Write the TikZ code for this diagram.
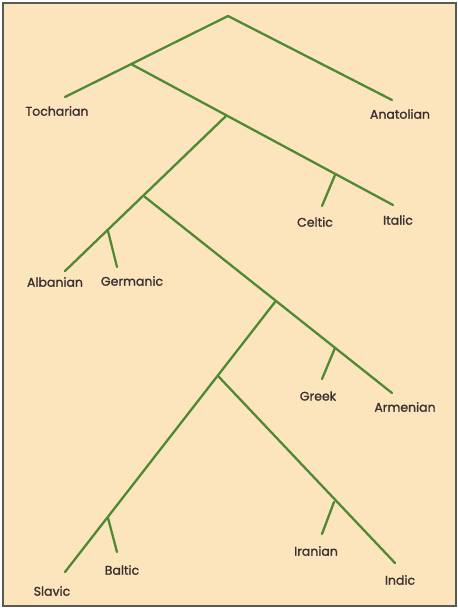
\documentclass[tikz,border=0pt]{standalone}
\usepackage{fontspec}
\setmainfont{Poppins}
\newfontfamily\langfont[FakeBold=1.2]{Poppins}
\definecolor{bg}{HTML}{FCE4BC}
\definecolor{br}{HTML}{4E8A33}
\definecolor{tx}{HTML}{3A3030}
\begin{document}
\begin{tikzpicture}[x=1pt,y=-1pt,
  branch/.style={draw=br,line width=2.3pt,line cap=round,line join=round},
  lang/.style={text=tx,font=\langfont\fontsize{12.5}{14}\selectfont,inner sep=0pt}]
\useasboundingbox (0,0) rectangle (458,608);
\fill[white] (0,0) rectangle (458,608);
\draw[fill=bg,draw=black!65,line width=1.2pt] (3,3) rectangle (456,606);
% coordinates
\coordinate (root) at (228,16);
\coordinate (tE) at (65,97);
\coordinate (aE) at (392,100);
\coordinate (j1) at (131,64);
\coordinate (itE) at (393,205);
\coordinate (j2) at (226,116);
\coordinate (alE) at (65,271);
\coordinate (jc) at (335,175);
\coordinate (ceE) at (322,206);
\coordinate (jg) at (108,231);
\coordinate (geE) at (117,267);
\coordinate (j3) at (145,197);
\coordinate (arE) at (392,393);
\coordinate (j4) at (275,302);
\coordinate (slE) at (65,572);
\coordinate (jgr) at (335,348);
\coordinate (grE) at (322,379);
\coordinate (j5) at (219,377);
\coordinate (inE) at (395,563);
\coordinate (jir) at (334,502);
\coordinate (irE) at (322,534);
\coordinate (jb) at (108,518);
\coordinate (baE) at (117,552);
% branches
\draw[branch] (tE) -- (root) -- (aE);
\draw[branch] (j1) -- (itE);
\draw[branch] (j2) -- (alE);
\draw[branch] (jc) -- (ceE);
\draw[branch] (jg) -- (geE);
\draw[branch] (j3) -- (arE);
\draw[branch] (j4) -- (slE);
\draw[branch] (jgr) -- (grE);
\draw[branch] (j5) -- (inE);
\draw[branch] (jir) -- (irE);
\draw[branch] (jb) -- (baE);
% labels
\node[lang] (toch) at (57,111) {Tocharian};
\node[lang] (anat) at (400,114) {Anatolian};
\node[lang] (celt) at (315,222) {Celtic};
\node[lang] (ital) at (398,220) {Italic};
\node[lang] (alba) at (55,282) {Albanian};
\node[lang] (germ) at (132,281) {Germanic};
\node[lang] (gree) at (318,396) {Greek};
\node[lang] (arme) at (405,407) {Armenian};
\node[lang] (balt) at (122,570) {Baltic};
\node[lang] (slav) at (52,591) {Slavic};
\node[lang] (iran) at (316,551) {Iranian};
\node[lang] (indi) at (400,580) {Indic};
\end{tikzpicture}
\end{document}
